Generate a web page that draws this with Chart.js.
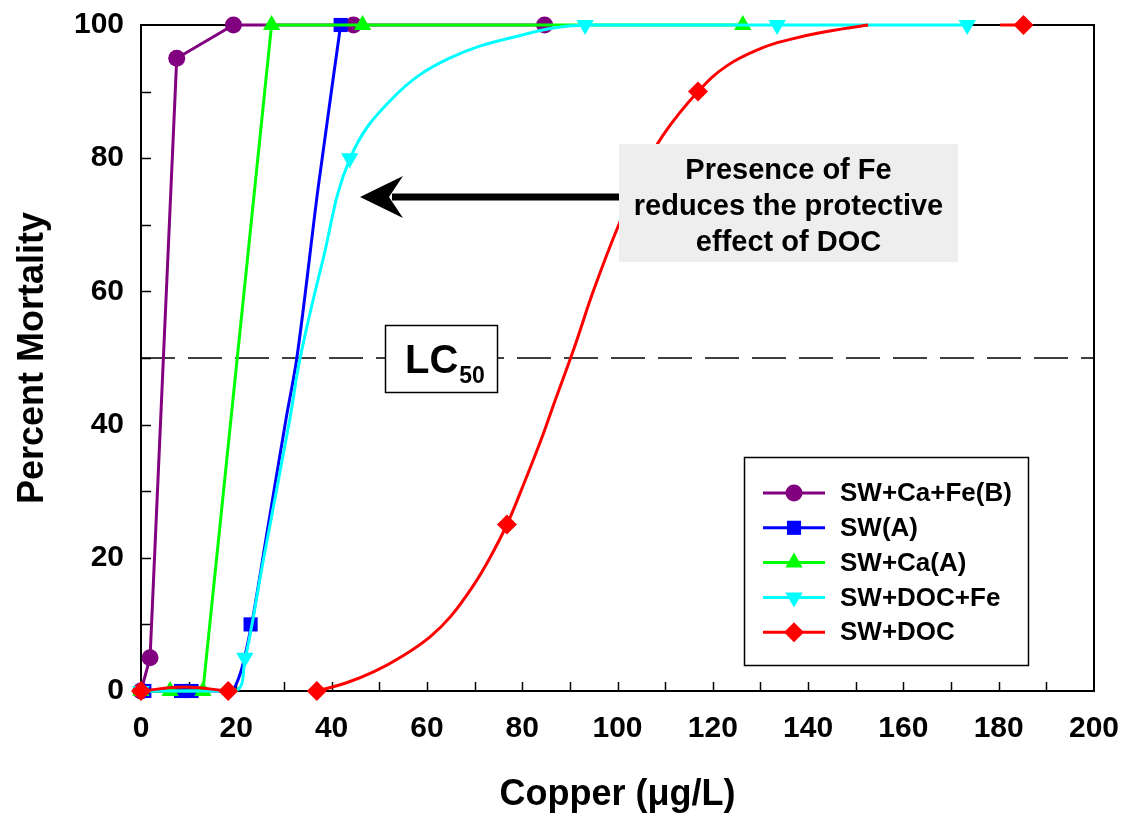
<!DOCTYPE html>
<html>
<head>
<meta charset="utf-8">
<script src="https://cdn.jsdelivr.net/npm/chart.js@4.4.1/dist/chart.umd.min.js"></script>
<style>
  html, body { margin: 0; padding: 0; background: #fff; }
</style>
</head>
<body>
<canvas id="mortality" width="1123" height="813"></canvas>
<script>
const FONT = "'Liberation Sans', Arial, sans-serif";

const seriesNames = ["SW+Ca+Fe(B)", "SW(A)", "SW+Ca(A)", "SW+DOC+Fe", "SW+DOC"];
const seriesColors = ["#800080", "#0000ff", "#00ff00", "#00ffff", "#ff0000"];

// measured points: copper (ug/L) vs percent mortality
const caFeB_x = [0, 1.9, 7.5, 19.4, 44.6, 84.7];
const caFeB_y = [0, 5, 95, 100, 100, 100];

const swA_x = [0.7, 8.4, 10.6, 23.0, 41.9];
const swA_y = [0, 0, 0, 10, 100];

const swCa_x = [0, 6.1, 13.0, 27.4, 46.5, 126.3];
const swCa_y = [0, 0, 0, 100, 100, 100];

const docFe_x = [0, 21.8, 43.8, 93.2, 133.5, 173.4];
const docFe_y = [0, 5, 80, 100, 100, 100];

const doc_x = [0, 18.3, 36.9, 76.8, 116.9, 185.2];
const doc_y = [0, 0, 0, 25, 90, 100];

// fitted dose-response curves
const swA_fitX = [0.7, 8.4, 10.6, 18.8, 21, 23.2, 26.5, 30.4, 32.7, 37.2, 41.9];
const swA_fitY = [0, 0, 0, 0, 3, 10, 24, 40.7, 50, 75.7, 100];

const docFe_fitX = [0, 19.7, 21.8, 25.5, 31.2, 33.4, 38, 43.9, 52.8, 64.4, 80, 93.2, 133.5, 173.4];
const docFe_fitY = [0, 0, 4.6, 19, 40.7, 50, 64.2, 80, 89, 94.9, 98.5, 100, 100, 100];

const doc_fitLowX = [0, 9, 18.3];
const doc_fitLowY = [0, 0.6, 0];
const doc_fitX = [36.9, 43, 48.9, 55, 60.6, 65, 69.9, 73, 76.8, 80, 83.9, 87, 90.9, 95, 100.2, 105, 109.5, 116.9, 123, 130.5, 136, 142.2, 152.6];
const doc_fitY = [0, 1.2, 2.9, 5.3, 8.1, 11.2, 16, 19.7, 25, 30.5, 37.6, 43.8, 51.5, 60.2, 69.9, 77.6, 83.4, 90, 93.9, 96.6, 97.8, 98.8, 100];
const doc_fitEndX = [180.3, 185.2];
const doc_fitEndY = [100, 100];

const xTicks = [0, 20, 40, 60, 80, 100, 120, 140, 160, 180, 200];
const yTicks = [0, 20, 40, 60, 80, 100];
const lc50 = 50;

const noteLines = ["Presence of Fe", "reduces the protective", "effect of DOC"];

function pts(xs, ys) {
    return xs.map((x, i) => ({ x: x, y: ys[i] }));
}

const markerStyle = [
    { pointStyle: "circle", radius: 8.5, rotation: 0 },
    { pointStyle: "rect", radius: 10, rotation: 0 },
    { pointStyle: "triangle", radius: 10, rotation: 0 },
    { pointStyle: "triangle", radius: 10, rotation: 180 },
    { pointStyle: "rectRot", radius: 10, rotation: 0 }
];

function markers(idx, data, order, showLine) {
    const c = seriesColors[idx];
    const m = markerStyle[idx];
    return {
        data: data, order: order, clip: false,
        showLine: showLine, borderColor: c, borderWidth: 3, tension: 0,
        backgroundColor: c, pointBackgroundColor: c, pointBorderColor: c, pointBorderWidth: 0,
        pointStyle: m.pointStyle, pointRadius: m.radius, pointRotation: m.rotation
    };
}

// smooth: true -> plain bezier tension, otherwise monotone
function curve(idx, data, order, smooth) {
    const ds = {
        data: data, order: order, clip: false, showLine: true,
        borderColor: seriesColors[idx], borderWidth: 3,
        pointRadius: 0, pointHoverRadius: 0
    };
    if (smooth) ds.tension = 0.4;
    else ds.cubicInterpolationMode = "monotone";
    return ds;
}

// marker painter for the legend
function drawMarker(ctx, idx, x, y) {
    const m = markerStyle[idx];
    const r = m.radius;
    ctx.fillStyle = seriesColors[idx];
    ctx.beginPath();
    if (m.pointStyle === "circle") {
        ctx.arc(x, y, r, 0, Math.PI * 2);
    } else if (m.pointStyle === "rect") {
        const s = r * Math.SQRT1_2;
        ctx.rect(x - s, y - s, 2 * s, 2 * s);
    } else if (m.pointStyle === "triangle") {
        const d = m.rotation ? -1 : 1;
        ctx.moveTo(x, y - d * r);
        ctx.lineTo(x + r * 0.866, y + d * r / 2);
        ctx.lineTo(x - r * 0.866, y + d * r / 2);
        ctx.closePath();
    } else {
        ctx.moveTo(x, y - r);
        ctx.lineTo(x + r, y);
        ctx.lineTo(x, y + r);
        ctx.lineTo(x - r, y);
        ctx.closePath();
    }
    ctx.fill();
}

const framePlugin = {
    id: "frame",
    beforeDatasetsDraw(chart) {
        const ctx = chart.ctx;
        const a = chart.chartArea;
        const xs = chart.scales.x, ys = chart.scales.y;
        ctx.save();
        // LC50 reference line
        const yl = ys.getPixelForValue(lc50);
        ctx.strokeStyle = "#000";
        ctx.lineWidth = 1.5;
        ctx.setLineDash([34, 13]);
        ctx.beginPath();
        ctx.moveTo(a.left, yl);
        ctx.lineTo(a.right, yl);
        ctx.stroke();
        ctx.setLineDash([]);
        // inward ticks every 10
        ctx.lineWidth = 1.5;
        ctx.beginPath();
        for (let v = 10; v < 200; v += 10) {
            const px = Math.round(xs.getPixelForValue(v)) + 0.5;
            ctx.moveTo(px, a.bottom);
            ctx.lineTo(px, a.bottom - 9);
        }
        for (let v = 10; v < 100; v += 10) {
            const py = Math.round(ys.getPixelForValue(v)) + 0.5;
            ctx.moveTo(a.left, py);
            ctx.lineTo(a.left + 10, py);
        }
        ctx.stroke();
        // box
        ctx.lineWidth = 2;
        ctx.strokeRect(a.left, a.top, a.right - a.left, a.bottom - a.top);
        ctx.restore();
    },
    afterDatasetsDraw(chart) {
        const ctx = chart.ctx;
        const ys = chart.scales.y;
        ctx.save();

        // LC50 label
        const yl = ys.getPixelForValue(lc50);
        ctx.fillStyle = "#fff";
        ctx.fillRect(385, yl - 32, 113, 67);
        ctx.strokeStyle = "#000";
        ctx.lineWidth = 1.5;
        ctx.strokeRect(385.5, yl - 32.5, 112, 67);
        ctx.fillStyle = "#000";
        ctx.textBaseline = "alphabetic";
        ctx.textAlign = "left";
        ctx.font = "bold 40px " + FONT;
        ctx.fillText("LC", 405, yl + 15);
        const w = ctx.measureText("LC").width;
        ctx.font = "bold 23px " + FONT;
        ctx.fillText("50", 405 + w + 1, yl + 25);

        // note box and arrow
        ctx.fillStyle = "#eeeeee";
        ctx.fillRect(619, 144, 339, 118);
        ctx.fillStyle = "#000";
        ctx.font = "bold 29px " + FONT;
        ctx.textAlign = "center";
        ctx.textBaseline = "middle";
        noteLines.forEach((t, i) => ctx.fillText(t, 788.5, 171 + i * 36));

        ctx.strokeStyle = "#000";
        ctx.lineWidth = 7;
        ctx.beginPath();
        ctx.moveTo(619, 197);
        ctx.lineTo(392, 197);
        ctx.stroke();
        ctx.beginPath();
        ctx.moveTo(360, 197);
        ctx.lineTo(403, 176);
        ctx.lineTo(389, 197);
        ctx.lineTo(403, 218);
        ctx.closePath();
        ctx.fill();

        // legend
        ctx.fillStyle = "#fff";
        ctx.fillRect(744, 457, 285, 209);
        ctx.strokeStyle = "#000";
        ctx.lineWidth = 1.5;
        ctx.strokeRect(744.5, 457.5, 284, 208);
        ctx.textAlign = "left";
        ctx.font = "bold 26px " + FONT;
        seriesNames.forEach((name, i) => {
            const y = 493 + i * 34.8;
            ctx.strokeStyle = seriesColors[i];
            ctx.lineWidth = 3;
            ctx.beginPath();
            ctx.moveTo(763, y);
            ctx.lineTo(825, y);
            ctx.stroke();
            drawMarker(ctx, i, 794, y);
            ctx.fillStyle = "#000";
            ctx.fillText(name, 840, y + 1);
        });
        ctx.restore();
    }
};

new Chart(document.getElementById("mortality"), {
    type: "scatter",
    data: {
        datasets: [
            markers(4, pts(doc_x, doc_y), 0, false),
            curve(4, pts(doc_fitLowX, doc_fitLowY), 1, false),
            curve(4, pts(doc_fitX, doc_fitY), 1, true),
            curve(4, pts(doc_fitEndX, doc_fitEndY), 1, false),
            markers(3, pts(docFe_x, docFe_y), 2, false),
            curve(3, pts(docFe_fitX, docFe_fitY), 3, true),
            markers(2, pts(swCa_x, swCa_y), 4, true),
            markers(1, pts(swA_x, swA_y), 5, false),
            curve(1, pts(swA_fitX, swA_fitY), 6, false),
            markers(0, pts(caFeB_x, caFeB_y), 7, true)
        ]
    },
    options: {
        responsive: false,
        animation: false,
        devicePixelRatio: 1,
        layout: { padding: { left: 0, right: 29, top: 25, bottom: 0 } },
        plugins: { legend: { display: false }, tooltip: { enabled: false } },
        scales: {
            x: {
                type: "linear", min: 0, max: 200,
                afterFit: s => { s.height = 122; s.paddingLeft = 0; s.paddingRight = 0; },
                afterBuildTicks: s => { s.ticks = xTicks.map(v => ({ value: v })); },
                grid: { display: false, drawTicks: false },
                border: { display: false },
                ticks: { color: "#000", padding: 20, maxRotation: 0, font: { family: FONT, size: 30, weight: "bold" } },
                title: {
                    display: true, text: "Copper (μg/L)", color: "#000",
                    font: { family: FONT, size: 36, weight: "bold", lineHeight: 1 },
                    padding: { top: 0, bottom: 0 }
                }
            },
            y: {
                type: "linear", min: 0, max: 100,
                afterFit: s => { s.width = 141; s.paddingTop = 0; s.paddingBottom = 0; },
                afterBuildTicks: s => { s.ticks = yTicks.map(v => ({ value: v })); },
                grid: { display: false, drawTicks: false },
                border: { display: false },
                ticks: { color: "#000", padding: 17, font: { family: FONT, size: 30, weight: "bold" } },
                title: {
                    display: true, text: "Percent Mortality", color: "#000",
                    font: { family: FONT, size: 36, weight: "bold", lineHeight: 1 },
                    padding: { top: 15, bottom: 0 }
                }
            }
        }
    },
    plugins: [framePlugin]
});
</script>
</body>
</html>
